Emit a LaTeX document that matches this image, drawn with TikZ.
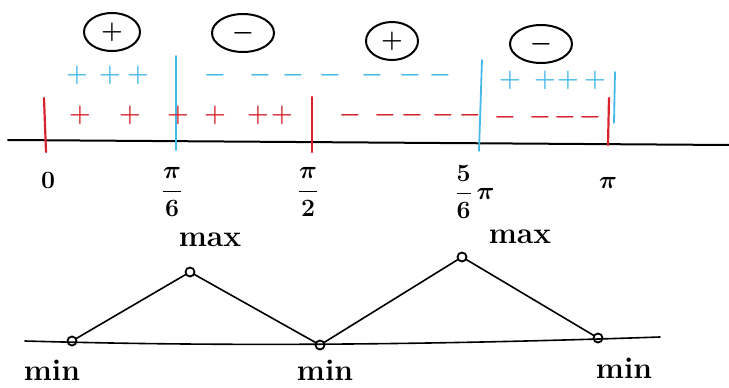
\documentclass[tikz,border=0pt]{standalone}
\usepackage{amsmath}
\usetikzlibrary{shapes.geometric}
\definecolor{sk}{RGB}{70,185,235}
\definecolor{rd}{RGB}{215,35,45}
\begin{document}
\begin{tikzpicture}[x=1pt,y=-1pt,line cap=round,line join=round,
  axis/.style={line width=2pt,black},
  rtick/.style={line width=2.2pt,rd},
  btick/.style={line width=1.8pt,sk},
  sgn/.style={ellipse,draw,line width=2pt,inner sep=0pt,minimum width=56pt,minimum height=38pt,font=\fontsize{38}{40}\selectfont\boldmath},
  lab/.style={font=\fontsize{26}{30}\selectfont\boldmath,inner sep=0pt},
  bsign/.style={sk,font=\fontsize{32}{34}\selectfont\boldmath,inner sep=0pt},
  rsign/.style={rd,font=\fontsize{30}{32}\selectfont\boldmath,inner sep=0pt},
  pt/.style={circle,draw,line width=1.8pt,inner sep=0pt,minimum size=9pt},
  graph/.style={line width=1.6pt},
  word/.style={font=\fontsize{30}{32}\selectfont\bfseries,inner sep=0pt}]
\useasboundingbox (0,0) rectangle (729,388);
% number line
\coordinate (L0) at (8,140);
\coordinate (L1) at (729,145);
\draw[axis] (L0) -- (L1);
% red ticks
\coordinate (r1a) at (44,98); \coordinate (r1b) at (46,152);
\coordinate (r2a) at (312,97); \coordinate (r2b) at (312,152);
\coordinate (r3a) at (609,98); \coordinate (r3b) at (608,145);
\draw[rtick] (r1a) -- (r1b);
\draw[rtick] (r2a) -- (r2b);
\draw[rtick] (r3a) -- (r3b);
% blue ticks
\coordinate (b1a) at (176,56); \coordinate (b1b) at (176,150);
\coordinate (b2a) at (482,60); \coordinate (b2b) at (479,151);
\coordinate (b3a) at (615,72); \coordinate (b3b) at (614,123);
\draw[btick] (b1a) -- (b1b);
\draw[btick] (b2a) -- (b2b);
\draw[btick] (b3a) -- (b3b);
% circled signs
\node[sgn] (s1) at (112,32) {$+$};
\node[sgn,minimum width=62pt] (s2) at (243,33) {$-$};
\node[sgn,minimum width=52pt] (s3) at (392,41) {$+$};
\node[sgn,minimum width=62pt] (s4) at (541,44) {$-$};
% blue signs row
\foreach \x [count=\i] in {77,110,138} \node[bsign] (bp\i) at (\x,75) {$+$};
\foreach \x [count=\i] in {215,260,293,330,372,410,440} \node[bsign] (bm\i) at (\x,75) {$-$};
\foreach \x [count=\i] in {510,545,568,595} \node[bsign] (bq\i) at (\x,80) {$+$};
% red signs row
\foreach \x [count=\i] in {80,130,178,215,258,282} \node[rsign] (rp\i) at (\x,115) {$+$};
\foreach \x [count=\i] in {350,385,412,443,470} \node[rsign] (rm\i) at (\x,115) {$-$};
\foreach \x [count=\i] in {505,540,565,590} \node[rsign] (rq\i) at (\x,117) {$-$};
% axis labels
\node[lab] (t0) at (48,180) {$0$};
\node[lab] (t1) at (172,192) {$\dfrac{\pi}{6}$};
\node[lab] (t2) at (308,192) {$\dfrac{\pi}{2}$};
\node[lab] (t3) at (475,192) {$\dfrac{5}{6}\,\pi$};
\node[lab] (t4) at (608,183) {$\pi$};
% bottom graph
\coordinate (B0) at (25,341);
\coordinate (B1) at (660,337);
\draw[graph] (B0) .. controls (200,346) and (400,346) .. (B1);
\node[pt] (m1) at (72,341) {};
\node[pt] (M1) at (190,272) {};
\node[pt] (m2) at (320,345) {};
\node[pt] (M2) at (462,257) {};
\node[pt] (m3) at (598,338) {};
\draw[graph] (m1) -- (M1) -- (m2) -- (M2) -- (m3);
\node[word] (w1) at (210,240) {max};
\node[word] (w2) at (520,237) {max};
\node[word] (w3) at (52,370) {min};
\node[word] (w4) at (325,370) {min};
\node[word] (w5) at (624,368) {min};
\end{tikzpicture}
\end{document}
